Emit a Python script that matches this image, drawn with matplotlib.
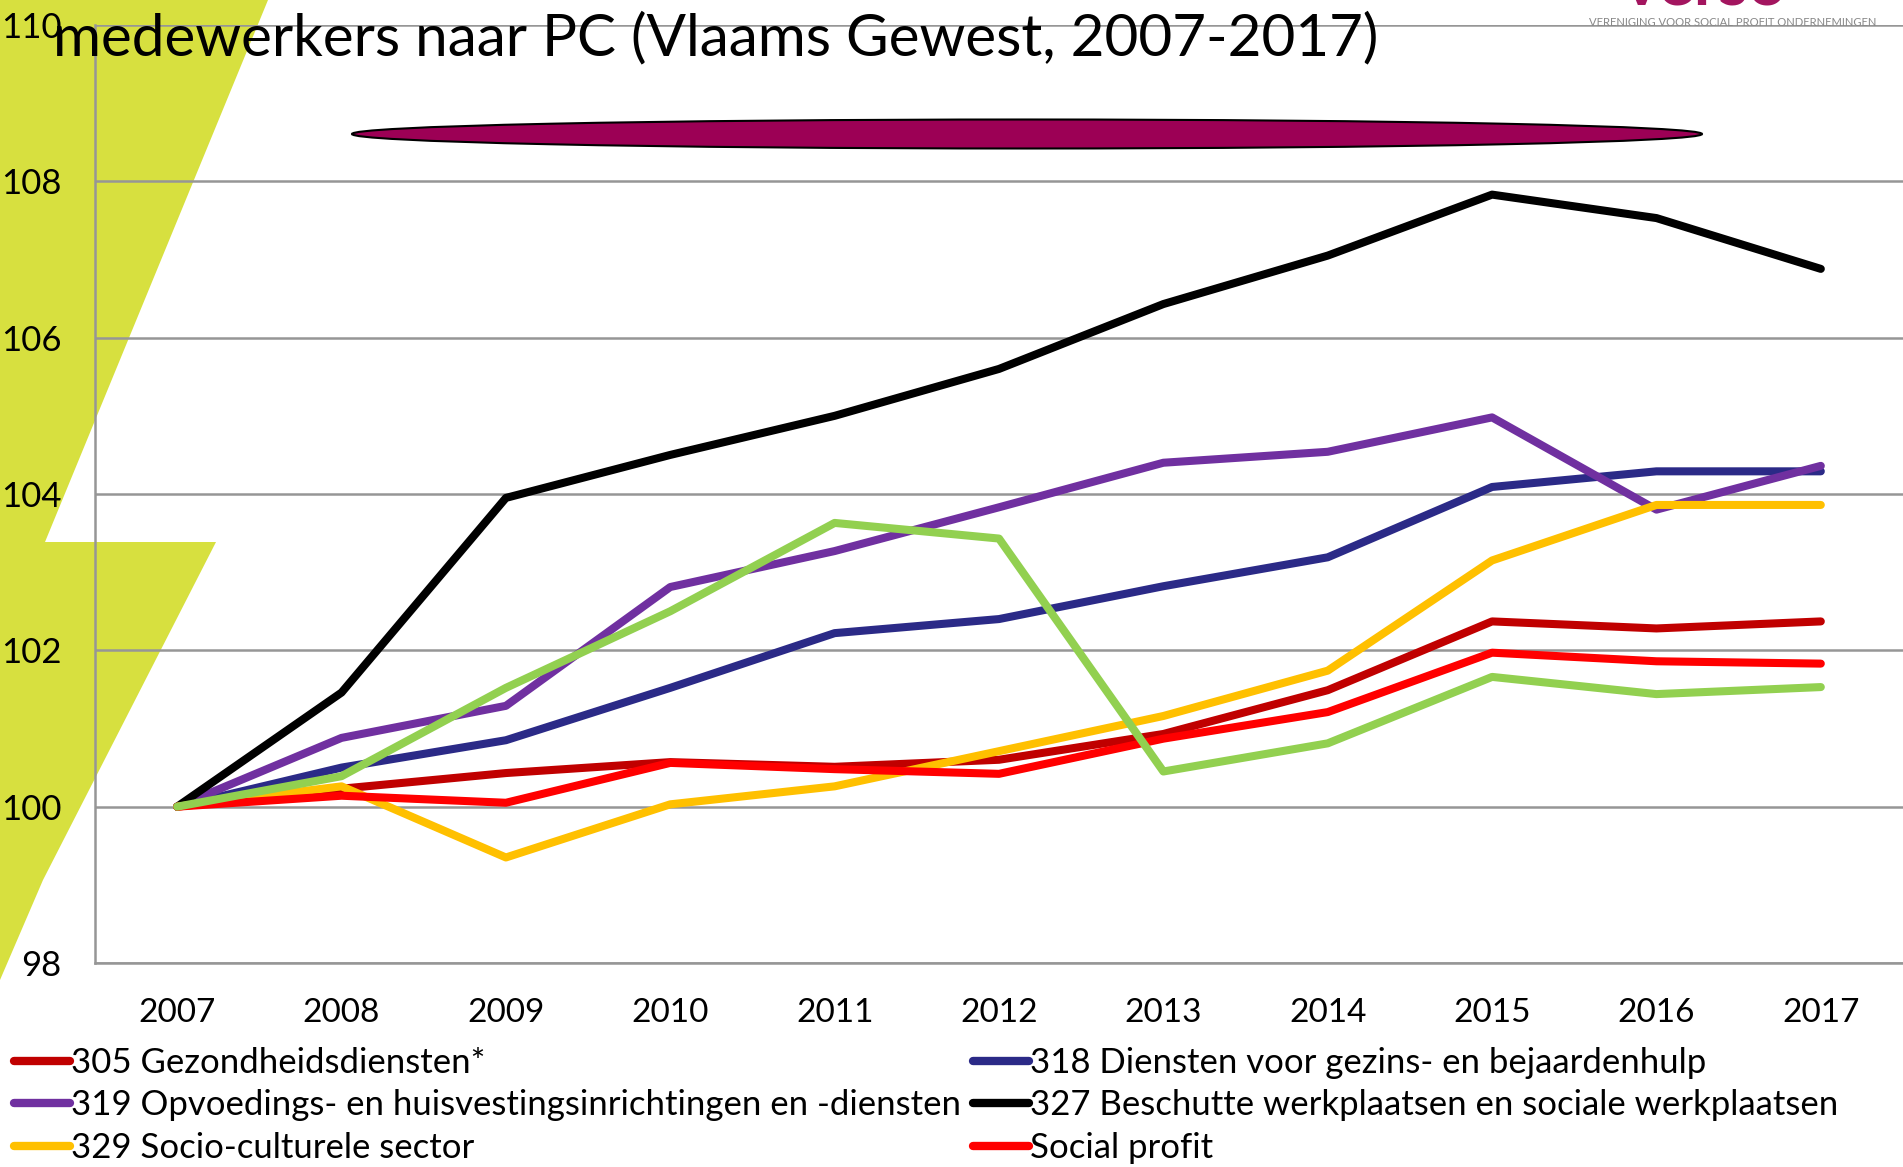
import numpy as np
import matplotlib.pyplot as plt
from matplotlib.patches import Polygon, Ellipse
from matplotlib.lines import Line2D

plt.rcParams['font.family'] = ['Lato', 'DejaVu Sans']

years = ['2007', '2008', '2009', '2010', '2011', '2012', '2013', '2014', '2015', '2016', '2017']

pc305 = [100, 100.23, 100.43, 100.57, 100.51, 100.60, 100.93, 101.49, 102.37, 102.28, 102.37]
pc318 = [100, 100.50, 100.85, 101.52, 102.22, 102.40, 102.82, 103.19, 104.09, 104.29, 104.29]
pc319 = [100, 100.88, 101.29, 102.81, 103.27, 103.83, 104.40, 104.54, 104.98, 103.80, 104.36]
pc327 = [100, 101.46, 103.95, 104.50, 105.00, 105.60, 106.43, 107.05, 107.83, 107.53, 106.88]
pc329 = [100, 100.26, 99.35, 100.03, 100.26, 100.71, 101.16, 101.74, 103.15, 103.86, 103.86]
social_profit = [100, 100.14, 100.05, 100.56, 100.48, 100.42, 100.87, 101.21, 101.97, 101.86, 101.83]
green_series = [100, 100.39, 101.52, 102.50, 103.63, 103.43, 100.45, 100.81, 101.66, 101.44, 101.53]

labels = ['305 Gezondheidsdiensten*',
          '318 Diensten voor gezins- en bejaardenhulp',
          '319 Opvoedings- en huisvestingsinrichtingen en -diensten',
          '327 Beschutte werkplaatsen en sociale werkplaatsen',
          '329 Socio-culturele sector',
          'Social profit']
colors = ['#C00000', '#2B2A87', '#7030A0', '#000000', '#FFC000', '#FF0000']

W, H = 1903, 1167
fig = plt.figure(figsize=(W / 100, H / 100), dpi=100)

# yellow-green lightning shape in background (pixel coords -> figure fraction)
bolt = [(0, 0), (268, 0), (45, 542), (216, 542), (43, 880), (0, 980)]
bolt = [(x / W, 1 - y / H) for x, y in bolt]
fig.patches.append(Polygon(bolt, closed=True, transform=fig.transFigure,
                           facecolor='#D7E03F', edgecolor='none', zorder=-10))

ax = fig.add_axes([95 / W, 1 - 963 / H, 1 - 95 / W, (963 - 25) / H])
ax.patch.set_alpha(0)
ax.set_zorder(1)

x = np.arange(len(years))
series = [pc305, pc318, pc319, pc327, pc329, social_profit]
for vals, c in zip(series, colors):
    ax.plot(x, vals, color=c, lw=5.8, solid_capstyle='round', solid_joinstyle='round')
ax.plot(x, green_series, color='#92D050', lw=5.8, solid_capstyle='round', solid_joinstyle='round')

ax.set_xlim(-0.5, 10.5)
ax.set_ylim(98, 110)
ax.set_yticks(np.arange(98, 111, 2))
ax.set_xticks(x)
ax.set_xticklabels(years)
ax.tick_params(axis='both', length=0)
ax.tick_params(axis='x', pad=25, labelsize=24)
ax.tick_params(axis='y', pad=24, labelsize=25)
ax.grid(axis='y', color='#969696', lw=1.8)
ax.set_axisbelow(True)
for s in ['top', 'right']:
    ax.spines[s].set_visible(False)
for s in ['left', 'bottom']:
    ax.spines[s].set_color('#969696')
    ax.spines[s].set_linewidth(1.8)

# title and decoration
fig.text(53 / W, 1 - 55 / H, 'medewerkers naar PC (Vlaams Gewest, 2007-2017)',
         fontsize=42, va='baseline', ha='left', zorder=5)
fig.patches.append(Ellipse((1027 / W, 1 - 134 / H), 1350 / W, 29 / H,
                           transform=fig.transFigure, facecolor='#9C0055',
                           edgecolor='black', lw=1.5, zorder=3))
fig.text(1705 / W, 1 - 5 / H, 'verso', fontsize=48, fontweight='bold',
         color='#A3155F', ha='center', va='baseline')
fig.text(1733 / W, 1 - 22 / H, 'VERENIGING VOOR SOCIAL PROFIT ONDERNEMINGEN',
         fontsize=8.1, color='#888888', ha='center', va='center')

# legend in two columns
def handles(idx):
    return [Line2D([0], [0], color=colors[i], lw=6, solid_capstyle='round') for i in idx]

left = [0, 2, 4]
right = [1, 3, 5]
for idx, xpos in [(left, 14 / W), (right, 973 / W)]:
    fig.legend(handles(idx), [labels[i] for i in idx], loc='upper left',
               bbox_to_anchor=(xpos, 1 - 1047 / H), frameon=False, fontsize=25,
               handlelength=1.6, handletextpad=0.05, labelspacing=0.3,
               borderpad=0, borderaxespad=0)

fig.savefig('out.png', dpi=100)
